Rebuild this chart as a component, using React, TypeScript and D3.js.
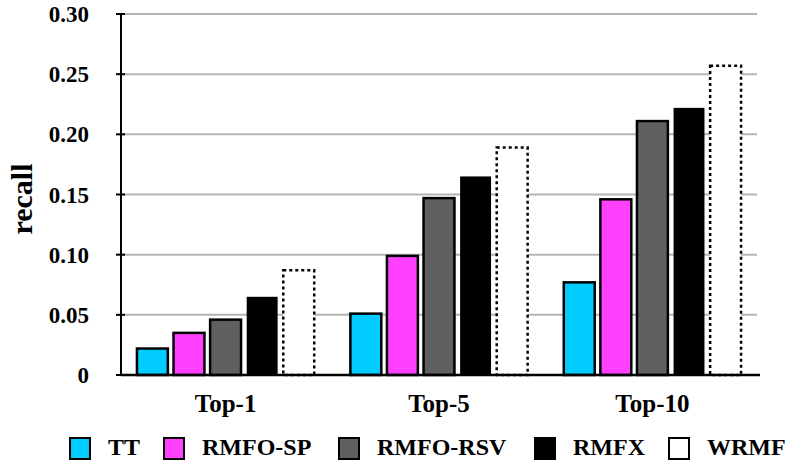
import React from "react";
import * as d3 from "d3";

const categories = ["Top-1", "Top-5", "Top-10"];
const seriesNames = ["TT", "RMFO-SP", "RMFO-RSV", "RMFX", "WRMF"];
const TT = [0.022, 0.051, 0.077];
const RMFO_SP = [0.035, 0.099, 0.146];
const RMFO_RSV = [0.046, 0.147, 0.211];
const RMFX = [0.065, 0.165, 0.222];
const WRMF = [0.087, 0.189, 0.257];
const seriesValues = [TT, RMFO_SP, RMFO_RSV, RMFX, WRMF];
const yTicks = [0, 0.05, 0.1, 0.15, 0.2, 0.25, 0.3];
const yTickLabels = ["0", "0.05", "0.10", "0.15", "0.20", "0.25", "0.30"];

const fills = ["#00CCFF", "#FF40FF", "#606060", "#000000", "#FFFFFF"];
const legendX = [69, 163, 338, 534, 668];

export default function App() {
  const W = 792, H = 464;
  const left = 121, right = 757, top = 14, bottom = 375;
  const y = d3.scaleLinear().domain([0, 0.3]).range([bottom, top]);
  const x0 = d3.scaleBand<string>().domain(categories).range([left, right]).paddingInner(0.16).paddingOuter(0.07);
  const x1 = d3.scaleBand<string>().domain(seriesNames).range([0, x0.bandwidth()]).paddingInner(0.1);
  const fontStyle = { fontFamily: "Liberation Serif", fontWeight: 700 } as React.CSSProperties;

  return (
    <svg width={W} height={H} style={{ position: "absolute", left: 0, top: 0, background: "#fff" }}>
      <g style={fontStyle}>
        {yTicks.map((t, i) => (
          <g key={i}>
            {t > 0 && <line x1={left} x2={right} y1={y(t)} y2={y(t)} stroke="#b4b4b4" strokeWidth={2} />}
            <line x1={left - 5} x2={left + 4} y1={y(t)} y2={y(t)} stroke="#000" strokeWidth={2} />
            <text x={89} y={y(t)} dy="0.35em" textAnchor="end" fontSize={23}>{yTickLabels[i]}</text>
          </g>
        ))}
        {categories.map((c, ci) => (
          <g key={c} transform={`translate(${x0(c)},0)`}>
            {seriesNames.map((s, si) => {
              const v = seriesValues[si][ci];
              const bx = x1(s)!;
              const bw = x1.bandwidth();
              const isW = si === 4;
              const isBlack = si === 3;
              return (
                <rect key={s} x={bx + 1} y={y(v)} width={bw - 2} height={bottom - y(v)}
                  fill={fills[si]} stroke="#000" strokeWidth={isBlack ? 0 : 2.5}
                  strokeDasharray={isW ? "3,3" : undefined} />
              );
            })}
            <text x={x0.bandwidth() / 2} y={412} textAnchor="middle" fontSize={25}>{c}</text>
          </g>
        ))}
        <line x1={left} x2={left} y1={top} y2={bottom} stroke="#000" strokeWidth={2} />
        <line x1={left} x2={760} y1={bottom} y2={bottom} stroke="#000" strokeWidth={2.5} />
        <text transform={`translate(32,199) rotate(-90)`} textAnchor="middle" fontSize={30}>recall</text>
        {seriesNames.map((s, i) => (
          <g key={s} transform={`translate(${legendX[i]},438)`}>
            <rect x={1} y={0} width={20} height={21} fill={fills[i]} stroke="#000" strokeWidth={2} />
            <text x={39} y={17} fontSize={24}>{s}</text>
          </g>
        ))}
      </g>
    </svg>
  );
}
